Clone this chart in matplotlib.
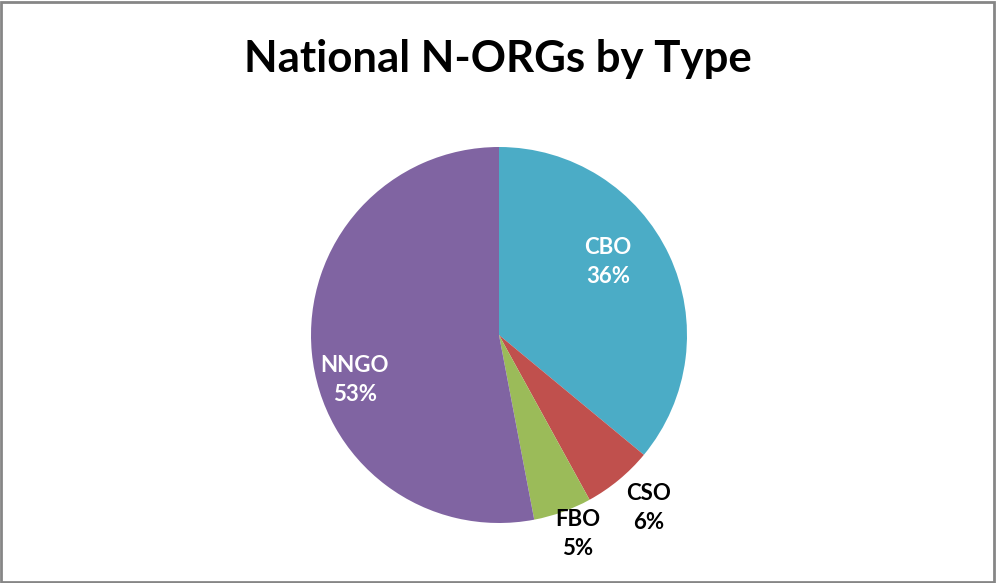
import matplotlib
matplotlib.use("Agg")
import matplotlib.pyplot as plt
from matplotlib.patches import Rectangle

categories = ["CBO", "CSO", "FBO", "NNGO"]
values = [36, 6, 5, 53]
colors = ["#4BACC6", "#C0504D", "#9BBB59", "#8064A2"]
title = "National N-ORGs by Type"

W, H = 996, 583
fig = plt.figure(figsize=(W / 100, H / 100), dpi=100)
fig.patch.set_facecolor("white")
ax = fig.add_axes([0, 0, 1, 1])

cx, cy, r = 499, H - 335, 188
ax.pie(values, colors=colors, startangle=90, counterclock=False,
       center=(cx, cy), radius=r, frame=True,
       wedgeprops=dict(linewidth=0))
ax.set_xlim(0, W)
ax.set_ylim(0, H)
ax.axis("off")

label_pos = [(608, 262), (649, 508), (578, 534), (355, 380)]
label_col = ["white", "black", "black", "white"]
for cat, v, (lx, ly), c in zip(categories, values, label_pos, label_col):
    ax.text(lx, H - ly, f"{cat}\n{v}%", ha="center", va="center",
            fontsize=16, fontweight="bold", family="Lato", color=c,
            linespacing=1.45)

fig.text(498 / W, 1 - 59 / H, title, ha="center", va="center",
         fontsize=31.5, fontweight="bold", family="Lato", color="black")

fig.patches.append(Rectangle((1 / W, 1 / H), (W - 3) / W, (H - 3) / H,
                             transform=fig.transFigure, fill=False,
                             edgecolor="#868686", linewidth=2))

fig.savefig("out.png", dpi=100)
